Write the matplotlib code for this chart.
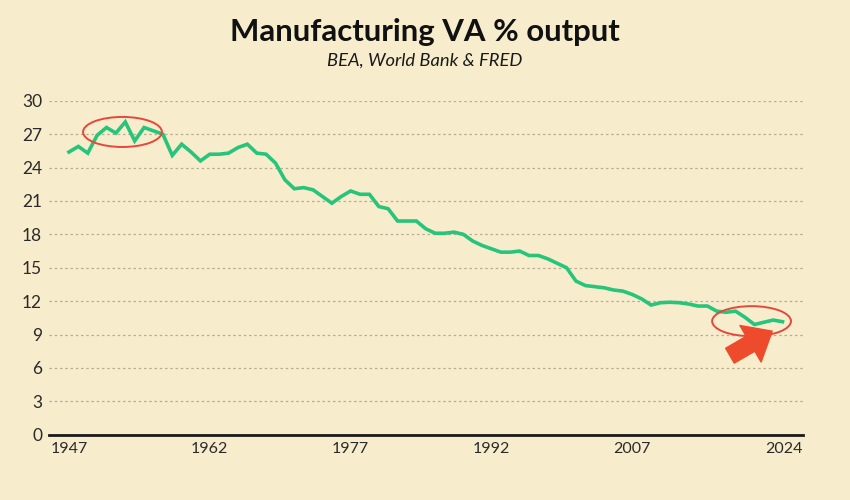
import numpy as np
import matplotlib
matplotlib.use("Agg")
import matplotlib.pyplot as plt
from matplotlib.patches import Ellipse
from matplotlib.transforms import ScaledTranslation

plt.rcParams['font.family'] = ['Lato', 'DejaVu Sans']

# manufacturing value added as % of output
years = list(range(1947, 2024))
share = [25.4, 25.9, 25.3, 26.9, 27.6, 27.1, 28.1, 26.4, 27.6, 27.3,
         27.0, 25.1, 26.1, 25.4, 24.6, 25.2, 25.2, 25.3, 25.8, 26.1,
         25.3, 25.2, 24.4, 22.9, 22.1, 22.2, 22.0, 21.4, 20.8, 21.4,
         21.9, 21.6, 21.6, 20.5, 20.3, 19.2, 19.2, 19.2, 18.5, 18.1,
         18.1, 18.2, 18.0, 17.4, 17.0, 16.7, 16.4, 16.4, 16.5, 16.1,
         16.1, 15.8, 15.4, 15.0, 13.8, 13.4, 13.3, 13.2, 13.0, 12.9,
         12.6, 12.2, 11.65, 11.86, 11.9, 11.86, 11.74, 11.56, 11.56, 11.1,
         11.0, 11.1, 10.55, 9.9, 10.1, 10.3, 10.15]
xticks = [1947, 1962, 1977, 1992, 2007, 2024]
yticks = list(range(0, 31, 3))
# periods circled on the chart
highlights = [(1950, 1956), (2017, 2023)]

bg = '#F7EDCD'
green = '#27C47B'
red = '#E5483A'

fig = plt.figure(figsize=(8.5, 5), dpi=100, facecolor=bg)
ax = fig.add_axes([0.0576, 0.1306, 0.887, 0.6678], facecolor=bg)

ax.plot(years, share, color=green, lw=2.6, solid_joinstyle='miter', zorder=3)

ax.set_xlim(1944.87, 2025.17)
ax.set_ylim(0, 30)
ax.set_xticks(xticks)
ax.set_yticks(yticks)
ax.tick_params(length=0, labelsize=11.5, colors='#2a2a2a')
ax.tick_params(axis='y', pad=5)
ax.tick_params(axis='x', pad=5)
for lab in ax.get_yticklabels():
    lab.set_fontsize(12.5)
# last year label nudged so it ends with the axis line
last = ax.get_xticklabels()[-1]
last.set_transform(last.get_transform() + ScaledTranslation(-0.08, 0, fig.dpi_scale_trans))

ax.grid(axis='y', color='#B8AD94', lw=0.9, ls=(0, (2, 2.2)))
ax.grid(axis='x', visible=False)
for s in ['top', 'right', 'left']:
    ax.spines[s].set_visible(False)
ax.spines['bottom'].set_color('#1a1a1a')
ax.spines['bottom'].set_linewidth(2.0)
ax.spines['bottom'].set_zorder(4)

# circles around the early peak and the recent low
yr = np.array(years)
vals = np.array(share)
for a, b in highlights:
    m = (yr >= a) & (yr <= b)
    cx = (a + b) / 2 - 0.3
    cy = np.median(vals[m]) - 0.1
    ax.add_patch(Ellipse((cx, cy), (b - a) + 2.4, 2.7, fill=False,
                         edgecolor=red, lw=1.4, zorder=5))

# arrow pointing at the latest values
ax.annotate('', xy=(yr[-2] - 0.1, vals[-2] - 1.0), xytext=(yr[-6] - 0.6, vals[-6] - 4.0),
            arrowprops=dict(arrowstyle='simple,head_length=0.95,head_width=1.6,tail_width=0.65',
                            color='#EE4A2C', mutation_scale=19, shrinkA=0, shrinkB=0),
            zorder=6)

fig.text(0.5, 0.935, 'Manufacturing VA % output', ha='center', va='center',
         fontsize=22.4, fontweight='bold', color='#111111')
fig.text(0.5, 0.878, 'BEA, World Bank & FRED', ha='center', va='center',
         fontsize=13.2, style='italic', color='#1a1a1a')

fig.savefig('out.png', dpi=100, facecolor=bg)
